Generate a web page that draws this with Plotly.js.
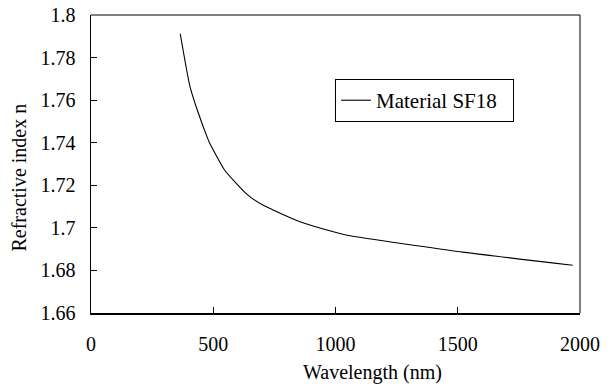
<!DOCTYPE html>
<html>
<head>
<meta charset="utf-8">
<script src="https://cdn.plot.ly/plotly-3.0.1.min.js"></script>
<style>html,body{margin:0;padding:0;background:#fff;}#chart{width:616px;height:388px;}</style>
</head>
<body>
<div id="chart"></div>
<script>
// Wavelength (nm) and refractive index
const wavelength = [365.0, 404.7, 435.8, 480.0, 486.1, 546.1, 587.6, 632.8, 656.3, 706.5, 852.1, 1014.0, 1060.0, 1529.6, 1970.1];
const refractiveIndex = [1.7912, 1.7665, 1.7550, 1.7412, 1.7396, 1.7272, 1.7217, 1.7163, 1.7141, 1.7105, 1.7030, 1.6975, 1.6963, 1.6885, 1.6824];
const seriesName = 'Material SF18';
const xTicks = [0, 500, 1000, 1500, 2000];
const yTicks = [1.66, 1.68, 1.70, 1.72, 1.74, 1.76, 1.78, 1.80];
const yTickText = ['1.66', '1.68', '1.7', '1.72', '1.74', '1.76', '1.78', '1.8'];

const FONT = "'Liberation Serif', 'Times New Roman', Times, serif";

const trace = {
  x: wavelength,
  y: refractiveIndex,
  type: 'scatter',
  mode: 'lines',
  name: seriesName + '\u00a0\u00a0',
  line: {color: '#000', width: 1.1, shape: 'spline', smoothing: 0.6},
  showlegend: true
};

const layout = {
  width: 616,
  height: 388,
  margin: {l: 91, r: 36, t: 15, b: 75},
  paper_bgcolor: '#fff',
  plot_bgcolor: '#fff',
  font: {family: FONT, size: 20, color: '#000'},
  showlegend: true,
  legend: {
    x: 0.499, y: 0.785, xanchor: 'left', yanchor: 'top',
    bordercolor: '#000', borderwidth: 1, bgcolor: '#fff',
    font: {family: FONT, size: 21, color: '#000'},
    tracegroupgap: 0, itemwidth: 30
  },
  xaxis: {
    range: [0, 2000],
    tickvals: xTicks,
    ticktext: xTicks.map(String),
    ticks: 'inside', ticklen: 6, tickwidth: 1, tickcolor: '#000',
    showline: true, linecolor: '#000', linewidth: 1.5,
    showgrid: false, zeroline: false,
    ticklabelstandoff: 12,
    tickfont: {family: FONT, size: 20, color: '#000'}
  },
  yaxis: {
    range: [1.66, 1.80],
    tickvals: yTicks,
    ticktext: yTickText,
    ticks: 'inside', ticklen: 6, tickwidth: 1, tickcolor: '#000',
    showline: true, linecolor: '#000', linewidth: 1.5,
    showgrid: false, zeroline: false,
    ticklabelstandoff: 10,
    tickfont: {family: FONT, size: 20, color: '#000'}
  },
  shapes: [
    {type: 'line', xref: 'paper', yref: 'paper', x0: 0, x1: 1, y0: 1, y1: 1, line: {color: '#000', width: 1}},
    {type: 'line', xref: 'paper', yref: 'paper', x0: 1, x1: 1, y0: 0, y1: 1, line: {color: '#000', width: 1}}
  ],
  annotations: [
    {text: 'Wavelength (nm)', xref: 'paper', yref: 'paper', x: 0.575, y: -0.2, xanchor: 'center', yanchor: 'middle', showarrow: false, font: {family: FONT, size: 20, color: '#000'}},
    {text: 'Refractive index n', xref: 'paper', yref: 'paper', x: -0.147, y: 0.455, xanchor: 'center', yanchor: 'middle', textangle: -90, showarrow: false, font: {family: FONT, size: 20, color: '#000'}}
  ]
};

Plotly.newPlot('chart', [trace], layout, {displayModeBar: false, staticPlot: true});
</script>
</body>
</html>
